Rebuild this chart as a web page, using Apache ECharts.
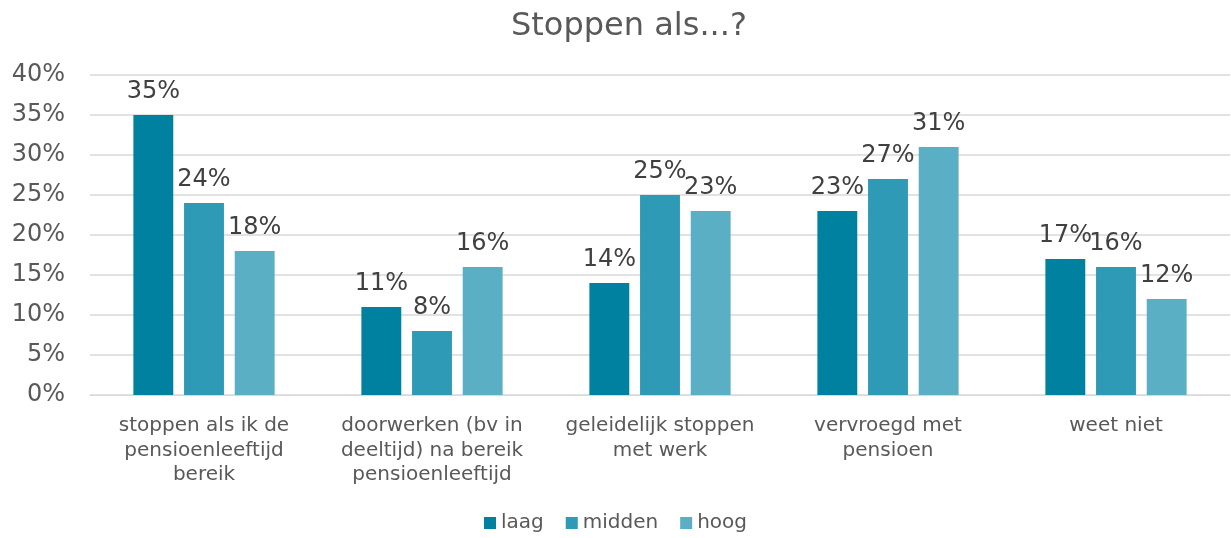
<!DOCTYPE html>
<html>
<head>
<meta charset="utf-8">
<script src="https://cdn.jsdelivr.net/npm/echarts@6/dist/echarts.min.js"></script>
<style>
  html, body { margin: 0; padding: 0; background: #fff; }
  #chart { width: 1231px; height: 538px; }
</style>
</head>
<body>
<div id="chart"></div>
<script>
const categories = [
  'stoppen als ik de\npensioenleeftijd\nbereik',
  'doorwerken (bv in\ndeeltijd) na bereik\npensioenleeftijd',
  'geleidelijk stoppen\nmet werk',
  'vervroegd met\npensioen',
  'weet niet'
];
const seriesNames = ['laag', 'midden', 'hoog'];
const laag = [35, 11, 14, 23, 17];
const midden = [24, 8, 25, 27, 16];
const hoog = [18, 16, 23, 31, 12];
const yTicks = [0, 5, 10, 15, 20, 25, 30, 35, 40];
const colors = ['#00819f', '#2e9ab5', '#5bafc5'];

const font = 'Verdana, DejaVu Sans, sans-serif';
const chart = echarts.init(document.getElementById('chart'));

const makeSeries = (name, data) => ({
  name: name,
  type: 'bar',
  data: data,
  barWidth: '17.5%',
  barGap: '27%',
  label: {
    show: true,
    position: 'top',
    distance: 11,
    formatter: '{c}%',
    color: '#404040',
    fontFamily: font,
    fontSize: 24
  }
});

chart.setOption({
  color: colors,
  textStyle: { fontFamily: font },
  title: {
    text: 'Stoppen als...?',
    left: 506,
    top: 6,
    textStyle: { fontFamily: font, fontSize: 32, fontWeight: 'normal', color: '#595959' }
  },
  legend: {
    data: seriesNames,
    bottom: 0,
    left: 'center',
    icon: 'rect',
    itemWidth: 12,
    itemHeight: 12,
    itemGap: 22,
    textStyle: { fontFamily: font, fontSize: 20, color: '#595959' }
  },
  grid: { left: 90, right: 1, top: 75, bottom: 143 },
  xAxis: {
    type: 'category',
    data: categories,
    axisLine: { lineStyle: { color: '#d9d9d9' } },
    axisTick: { show: false },
    axisLabel: {
      fontFamily: font, fontSize: 20, color: '#595959',
      lineHeight: 24.5, margin: 19, interval: 0
    }
  },
  yAxis: {
    type: 'value',
    min: yTicks[0],
    max: yTicks[yTicks.length - 1],
    interval: 5,
    axisLine: { show: false },
    axisTick: { show: false },
    splitLine: { lineStyle: { color: '#d9d9d9', width: 1.5 } },
    axisLabel: {
      formatter: '{value}%',
      fontFamily: font, fontSize: 24, color: '#595959', margin: 25
    }
  },
  series: [
    makeSeries(seriesNames[0], laag),
    makeSeries(seriesNames[1], midden),
    makeSeries(seriesNames[2], hoog)
  ]
});
</script>
</body>
</html>
